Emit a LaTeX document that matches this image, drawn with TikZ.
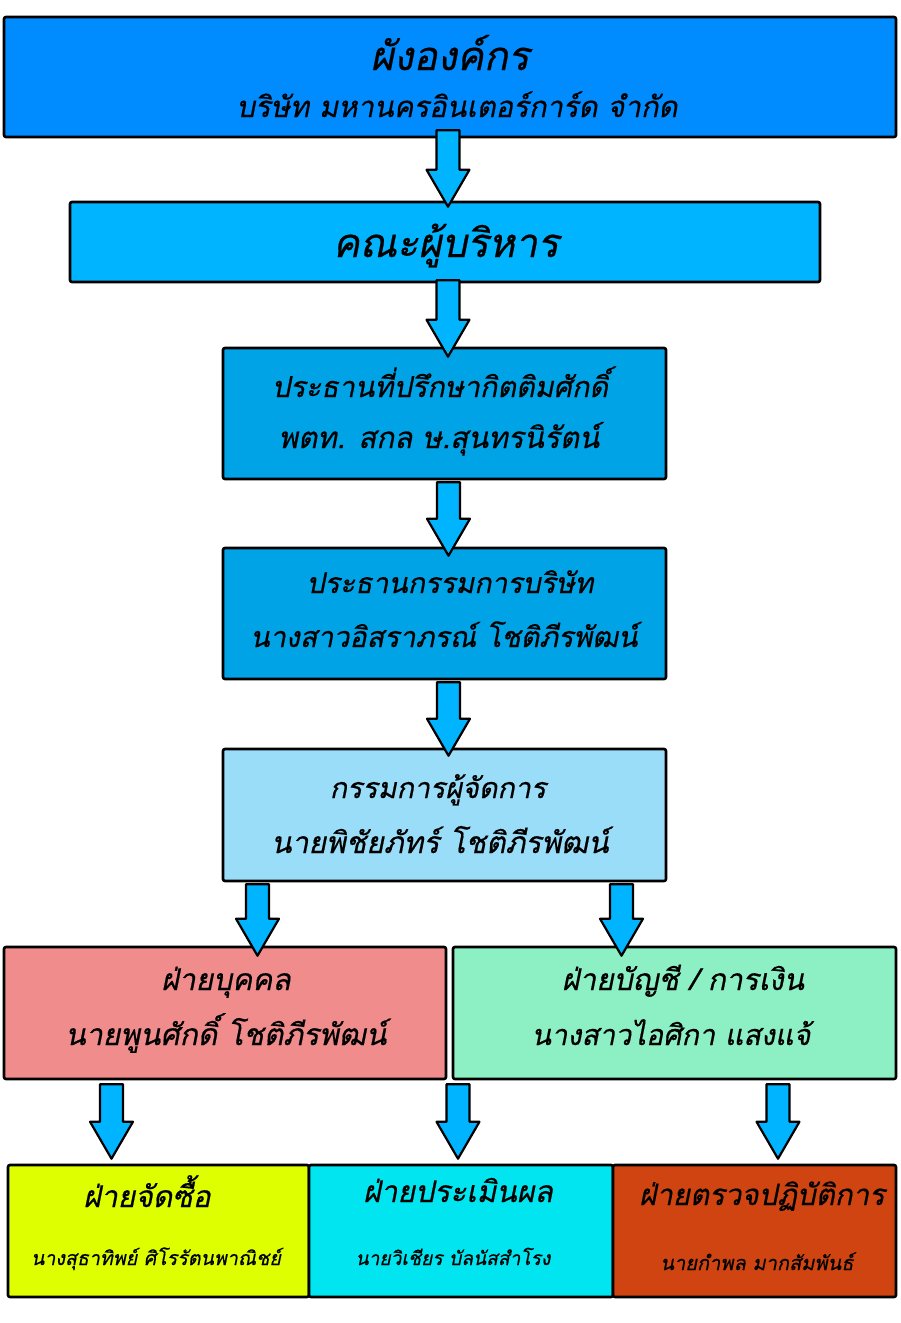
\documentclass[tikz,border=0pt]{standalone}
\usepackage{fontspec}
\newfontfamily\thaifont[Script=Thai,FakeSlant=0.2,FakeBold=0.5]{Loma}
\usetikzlibrary{calc}
\definecolor{cA}{RGB}{0,140,255}
\definecolor{cB}{RGB}{0,180,255}
\definecolor{cC}{RGB}{0,163,230}
\definecolor{cE}{RGB}{153,221,248}
\definecolor{cF}{RGB}{240,140,140}
\definecolor{cG}{RGB}{140,240,196}
\definecolor{cH}{RGB}{221,255,0}
\definecolor{cI}{RGB}{0,229,240}
\definecolor{cJ}{RGB}{207,68,16}
\definecolor{arrowfill}{RGB}{0,180,255}
\tikzset{
  box/.style={draw=black,line width=1.3pt,rounded corners=1pt,inner sep=0pt},
  txt/.style={anchor=base,inner sep=0pt,font=\thaifont},
  barrow/.style={draw=black,fill=arrowfill,line width=1.1pt,line join=round,
    to path={let \p1=(\tikztostart), \p2=(\tikztotarget) in
      (\x1-5.75pt,\y1) -- (\x1+5.75pt,\y1) -- (\x1+5.75pt,\y2+18.5pt) -- (\x1+10.75pt,\y2+18.5pt)
      -- (\x1,\y2) -- (\x1-10.75pt,\y2+18.5pt) -- (\x1-5.75pt,\y2+18.5pt) -- cycle}}
}
\begin{document}
\begin{tikzpicture}[x=0.5pt,y=-0.5pt]
\useasboundingbox (0,0) rectangle (900,1323);
% boxes
\node[box,fill=cA,minimum width=446pt,minimum height=60pt] (b1) at (450,77) {};
\node[box,fill=cB,minimum width=375pt,minimum height=40pt] (b2) at (445,242) {};
\node[box,fill=cC,minimum width=221.5pt,minimum height=65.5pt] (b3) at (444.5,413.5) {};
\node[box,fill=cC,minimum width=221.5pt,minimum height=65.5pt] (b4) at (444.5,613.5) {};
\node[box,fill=cE,minimum width=221.5pt,minimum height=66pt] (b5) at (444.5,815) {};
\node[box,fill=cF,minimum width=221pt,minimum height=66pt] (b6) at (225,1013) {};
\node[box,fill=cG,minimum width=221.5pt,minimum height=66pt] (b7) at (674.5,1013) {};
\node[box,fill=cH,minimum width=150.5pt,minimum height=66pt] (b8) at (158.5,1231) {};
\node[box,fill=cI,minimum width=152pt,minimum height=66pt] (b9) at (461,1231) {};
\node[box,fill=cJ,minimum width=141.5pt,minimum height=66pt] (b10) at (754.5,1231) {};
% texts
\node[txt,font=\thaifont\fontsize{20}{24}\selectfont] (t1a) at (450,70) {ผังองค์กร};
\node[txt,font=\thaifont\fontsize{14.6}{18}\selectfont] (t1b) at (457,117) {บริษัท มหานครอินเตอร์การ์ด จำกัด};
\node[txt,font=\thaifont\fontsize{20}{24}\selectfont] (t2) at (446,257) {คณะผู้บริหาร};
\node[txt,font=\thaifont\fontsize{14.4}{18}\selectfont] (t3a) at (440,397) {ประธานที่ปรึกษากิตติมศักดิ์};
\node[txt,font=\thaifont\fontsize{14.8}{18}\selectfont] (t3b) at (439,448) {พตท. สกล ษ.สุนทรนิรัตน์};
\node[txt,font=\thaifont\fontsize{14.2}{18}\selectfont] (t4a) at (450,593) {ประธานกรรมการบริษัท};
\node[txt,font=\thaifont\fontsize{14.3}{18}\selectfont] (t4b) at (444,647) {นางสาวอิสราภรณ์ โชติภีรพัฒน์};
\node[txt,font=\thaifont\fontsize{14.3}{18}\selectfont] (t5a) at (438,798) {กรรมการผู้จัดการ};
\node[txt,font=\thaifont\fontsize{15}{18}\selectfont] (t5b) at (440,853) {นายพิชัยภัทร์ โชติภีรพัฒน์};
\node[txt,font=\thaifont\fontsize{15}{18}\selectfont] (t6a) at (226,990) {ฝ่ายบุคคล};
\node[txt,font=\thaifont\fontsize{15}{18}\selectfont] (t6b) at (226,1045) {นายพูนศักดิ์ โชติภีรพัฒน์};
\node[txt,font=\thaifont\fontsize{15}{18}\selectfont] (t7a) at (683,990) {ฝ่ายบัญชี / การเงิน};
\node[txt,font=\thaifont\fontsize{14.4}{18}\selectfont] (t7b) at (671,1045) {นางสาวไอศิกา แสงแจ้};
\node[txt,font=\thaifont\fontsize{15}{18}\selectfont] (t8a) at (147,1207) {ฝ่ายจัดซื้อ};
\node[txt,font=\thaifont\fontsize{9.8}{12}\selectfont] (t8b) at (156,1265) {นางสุธาทิพย์ ศิโรรัตนพาณิชย์};
\node[txt,font=\thaifont\fontsize{15}{18}\selectfont] (t9a) at (458,1202) {ฝ่ายประเมินผล};
\node[txt,font=\thaifont\fontsize{9.6}{12}\selectfont] (t9b) at (453,1265) {นายวิเชียร บัลนัสสำโรง};
\node[txt,font=\thaifont\fontsize{14.7}{18}\selectfont] (t10a) at (762,1205) {ฝ่ายตรวจปฏิบัติการ};
\node[txt,font=\thaifont\fontsize{10}{12}\selectfont] (t10b) at (757,1270) {นายกำพล มากสัมพันธ์};
% arrows
\draw[barrow] ([xshift=-1pt,yshift=4pt]b1.south) to ([xshift=-1pt,yshift=-3pt]b2.north);
\draw[barrow] ([xshift=1.5pt,yshift=1.5pt]b2.south) to ([xshift=2pt,yshift=-5pt]b3.north);
\draw[barrow] ([xshift=2pt,yshift=-1pt]b3.south) to ([xshift=2pt,yshift=-4.5pt]b4.north);
\draw[barrow] ([xshift=2pt,yshift=-1pt]b4.south) to ([xshift=2pt,yshift=-4pt]b5.north);
\draw[barrow] ([xshift=-93.5pt,yshift=-1pt]b5.south) to ([xshift=-93.5pt,yshift=-5pt]b6.north -| 257,0);
\draw[barrow] ([xshift=88.5pt,yshift=-1pt]b5.south) to ([xshift=-27pt,yshift=-5pt]b7.north);
\draw[barrow] ([xshift=-56.75pt,yshift=-2pt]b6.south) to ([yshift=2.5pt]b8.north);
\draw[barrow] ([xshift=-108.25pt,yshift=-2pt]b7.south) to ([yshift=2.5pt]b9.north);
\draw[barrow] ([xshift=51.75pt,yshift=-2pt]b7.south) to ([yshift=2.5pt]b10.north);
\end{tikzpicture}
\end{document}
